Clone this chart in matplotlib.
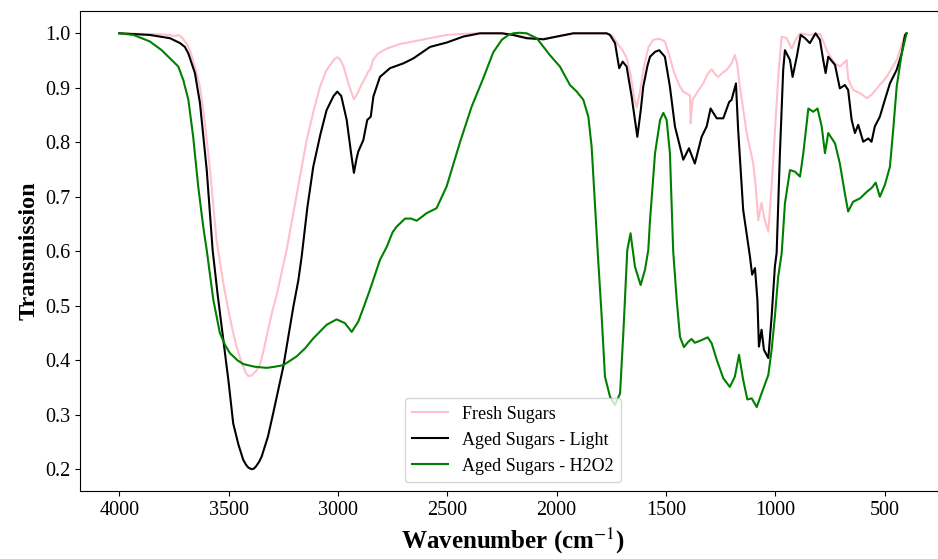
import numpy as np
import matplotlib
matplotlib.use("Agg")
import matplotlib.pyplot as plt

plt.rcParams['font.family'] = ['Liberation Serif', 'DejaVu Serif']
plt.rcParams['mathtext.fontset'] = 'stix'

# espectros (numero de onda en cm^-1, transmision normalizada)
wn_fresh = [4000, 3900, 3800, 3740, 3730, 3715, 3690, 3677, 3655, 3631, 3610, 3585,
            3555, 3524, 3500, 3479, 3460, 3440, 3420, 3410, 3395, 3375, 3357, 3340,
            3320, 3300, 3280, 3265, 3235, 3204, 3170, 3143, 3110, 3082, 3055, 3036,
            3015, 3003, 2990, 2975, 2950, 2927, 2910, 2899, 2880, 2861, 2850, 2840,
            2816, 2777, 2720, 2657, 2580, 2503, 2430, 2351, 2250, 2200, 2130, 2060,
            2000, 1920, 1780, 1756, 1741, 1718, 1700, 1680, 1660, 1645, 1634, 1620,
            1600, 1580, 1558, 1530, 1505, 1485, 1467, 1440, 1421, 1395, 1390, 1387,
            1383, 1378, 1360, 1330, 1310, 1291, 1275, 1261, 1240, 1222, 1200, 1185,
            1175, 1162, 1131, 1101, 1090, 1078, 1063, 1050, 1032, 1017, 1002, 985,
            971, 948, 925, 905, 887, 842, 796, 780, 765, 745, 727, 705, 680, 674,
            667, 655, 644, 613, 595, 582, 560, 529, 491, 445, 415, 400]
tr_fresh = [1.0, 0.999, 0.998, 0.995, 0.997, 0.993, 0.98, 0.969, 0.94, 0.902, 0.84, 0.749,
            0.62, 0.541, 0.49, 0.45, 0.42, 0.395, 0.376, 0.371, 0.372, 0.38, 0.391, 0.418,
            0.455, 0.49, 0.52, 0.547, 0.602, 0.67, 0.745, 0.804, 0.86, 0.902, 0.93, 0.942,
            0.953, 0.956, 0.952, 0.94, 0.905, 0.879, 0.89, 0.90, 0.915, 0.93, 0.935, 0.951,
            0.963, 0.972, 0.98, 0.985, 0.991, 0.997, 0.999, 1.0, 1.0, 0.998, 0.992, 0.99,
            0.994, 1.0, 1.0, 0.998, 0.994, 0.979, 0.97, 0.955, 0.92, 0.88, 0.864, 0.89,
            0.94, 0.975, 0.988, 0.99, 0.985, 0.96, 0.933, 0.905, 0.893, 0.887, 0.886, 0.835,
            0.86, 0.878, 0.89, 0.908, 0.925, 0.934, 0.925, 0.92, 0.928, 0.933, 0.945, 0.96,
            0.945, 0.902, 0.817, 0.761, 0.72, 0.657, 0.689, 0.66, 0.636, 0.72, 0.817, 0.93,
            0.994, 0.991, 0.972, 0.99, 1.0, 0.997, 0.999, 0.985, 0.969, 0.955, 0.945, 0.939, 0.948, 0.951,
            0.917, 0.905, 0.896, 0.89, 0.885, 0.881, 0.887, 0.902, 0.92, 0.951, 0.988, 1.0]

wn_light = [4000, 3860, 3768, 3722, 3700, 3684, 3654, 3631, 3600, 3573, 3550, 3524,
            3500, 3479, 3455, 3433, 3420, 3410, 3395, 3385, 3375, 3360, 3349, 3320,
            3296, 3250, 3204, 3181, 3166, 3140, 3113, 3080, 3052, 3020, 3003, 2985,
            2960, 2940, 2927, 2915, 2907, 2884, 2866, 2850, 2838, 2808, 2762, 2700,
            2655, 2579, 2503, 2427, 2351, 2250, 2200, 2137, 2060, 2000, 1924, 1771,
            1756, 1733, 1714, 1698, 1680, 1657, 1631, 1615, 1604, 1585, 1573, 1550,
            1531, 1505, 1482, 1459, 1421, 1395, 1368, 1337, 1314, 1296, 1268, 1238,
            1211, 1200, 1180, 1170, 1147, 1116, 1106, 1093, 1082, 1075, 1063, 1052,
            1032, 1017, 1002, 994, 979, 964, 956, 933, 921, 902, 884, 864, 842, 816,
            796, 781, 770, 758, 727, 705, 682, 667, 651, 636, 621, 598, 575, 560,
            545, 522, 499, 476, 445, 422, 407, 400]
tr_light = [1.0, 0.997, 0.991, 0.982, 0.975, 0.963, 0.927, 0.872, 0.749, 0.602, 0.52, 0.437,
            0.36, 0.284, 0.245, 0.217, 0.208, 0.203, 0.2, 0.201, 0.205, 0.214, 0.223, 0.26,
            0.303, 0.388, 0.498, 0.547, 0.59, 0.68, 0.755, 0.815, 0.859, 0.885, 0.893, 0.885,
            0.841, 0.78, 0.744, 0.77, 0.783, 0.804, 0.841, 0.847, 0.884, 0.92, 0.936, 0.945,
            0.954, 0.975, 0.983, 0.994, 1.0, 1.0, 0.997, 0.991, 0.989, 0.994, 1.0, 1.0,
            0.997, 0.982, 0.936, 0.948, 0.939, 0.884, 0.81, 0.86, 0.902, 0.94, 0.957, 0.966,
            0.969, 0.957, 0.902, 0.829, 0.768, 0.789, 0.761, 0.81, 0.829, 0.862, 0.844, 0.844,
            0.874, 0.878, 0.908, 0.823, 0.676, 0.59, 0.557, 0.569, 0.511, 0.425, 0.456, 0.419,
            0.404, 0.48, 0.572, 0.597, 0.78, 0.933, 0.969, 0.951, 0.92, 0.957, 0.997, 0.991, 0.982, 1.0,
            0.988, 0.951, 0.927, 0.957, 0.942, 0.899, 0.905, 0.896, 0.841, 0.817, 0.832, 0.801, 0.807, 0.801,
            0.829, 0.847, 0.878, 0.908, 0.933, 0.963, 0.997, 1.0]

wn_h2o2 = [4000, 3935, 3860, 3806, 3760, 3730, 3707, 3684, 3662, 3639, 3616, 3600,
           3570, 3540, 3515, 3494, 3460, 3433, 3380, 3326, 3290, 3250, 3189, 3150,
           3113, 3052, 3006, 2968, 2937, 2907, 2880, 2854, 2808, 2777, 2750, 2732,
           2693, 2665, 2640, 2594, 2549, 2503, 2442, 2389, 2336, 2290, 2251, 2220,
           2198, 2170, 2137, 2091, 2031, 1985, 1939, 1908, 1878, 1855, 1840, 1825,
           1810, 1794, 1779, 1756, 1733, 1710, 1695, 1677, 1662, 1650, 1642, 1616,
           1596, 1581, 1573, 1550, 1527, 1512, 1497, 1482, 1467, 1451, 1436, 1418,
           1398, 1383, 1368, 1337, 1309, 1291, 1268, 1238, 1208, 1185, 1166, 1147,
           1128, 1108, 1085, 1063, 1032, 1017, 1002, 987, 971, 956, 933, 910, 887,
           872, 849, 827, 807, 788, 773, 758, 727, 705, 682, 667, 644, 613, 582,
           560, 541, 522, 499, 476, 461, 445, 422, 400]
tr_h2o2 = [1.0, 0.997, 0.985, 0.969, 0.951, 0.939, 0.914, 0.878, 0.81, 0.719, 0.645, 0.602,
           0.511, 0.45, 0.427, 0.413, 0.4, 0.393, 0.388, 0.386, 0.388, 0.391, 0.407, 0.422,
           0.44, 0.465, 0.475, 0.468, 0.452, 0.471, 0.5, 0.529, 0.584, 0.608, 0.635, 0.645,
           0.66, 0.66, 0.656, 0.67, 0.679, 0.719, 0.80, 0.865, 0.917, 0.965, 0.988, 0.997,
           1.0, 1.001, 1.0, 0.991, 0.96, 0.939, 0.905, 0.893, 0.878, 0.847, 0.792, 0.688,
           0.584, 0.48, 0.37, 0.333, 0.318, 0.339, 0.45, 0.602, 0.633, 0.596, 0.572, 0.538,
           0.566, 0.602, 0.657, 0.78, 0.841, 0.854, 0.841, 0.78, 0.6, 0.511, 0.443, 0.424,
           0.434, 0.439, 0.432, 0.437, 0.442, 0.431, 0.401, 0.367, 0.351, 0.37, 0.41, 0.364,
           0.328, 0.33, 0.314, 0.339, 0.373, 0.419, 0.48, 0.553, 0.596, 0.688, 0.749, 0.746, 0.737,
           0.78, 0.862, 0.856, 0.862, 0.829, 0.78, 0.817, 0.798, 0.761, 0.706, 0.673, 0.691, 0.697, 0.709,
           0.716, 0.726, 0.70, 0.722, 0.755, 0.823, 0.902, 0.963, 1.0]

labels = ['Fresh Sugars', 'Aged Sugars - Light', 'Aged Sugars - H2O2']

fig = plt.figure(figsize=(9.38, 5.59), dpi=100)
# el eje se sale un poco por la derecha, igual que en la figura original recortada
ax = fig.add_axes([79.9/938, 68/559, 866/938, 480.3/559])

ax.plot(wn_fresh, tr_fresh, color='pink', lw=1.5, label=labels[0])
ax.plot(wn_light, tr_light, color='black', lw=1.5, label=labels[1])
ax.plot(wn_h2o2, tr_h2o2, color='green', lw=1.5, label=labels[2])

ax.set_xlim(4180, 220)
ax.set_ylim(0.16, 1.0415)
ax.set_xticks([4000, 3500, 3000, 2500, 2000, 1500, 1000, 500])
ax.set_yticks(np.arange(0.2, 1.01, 0.1))
ax.tick_params(labelsize=14.5)

ax.set_xlabel('Wavenumber (cm$^{-1}$)', fontsize=18, fontweight='bold')
ax.set_ylabel('Transmission', fontsize=17.5, fontweight='bold')
ax.legend(loc='lower center', fontsize=13)

fig.savefig('out.png', dpi=100)
